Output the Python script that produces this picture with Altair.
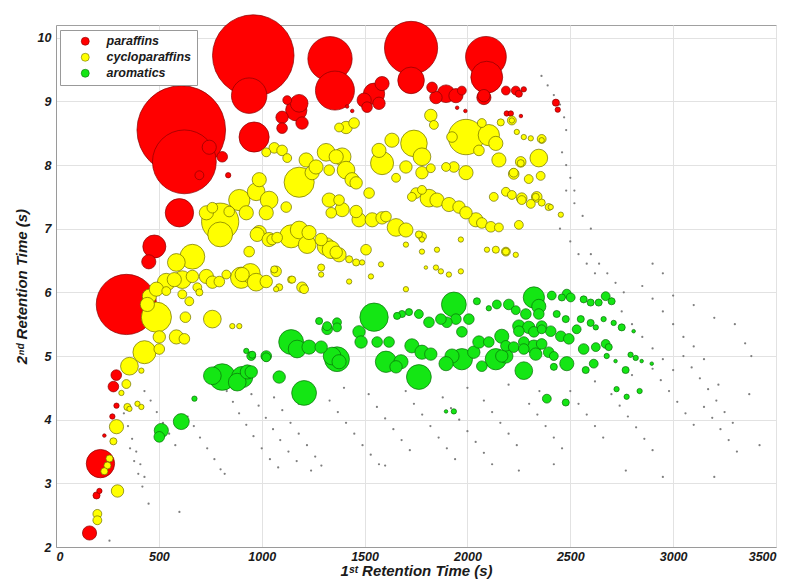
import altair as alt
import pandas as pd

# (1st retention time s, 2nd retention time s, peak volume)
PARAFFINS = [
    (959, 9.72, 2116), (939, 9.09, 400), (963, 8.44, 289),
    (609, 8.55, 2500), (624, 8.05, 1296), (342, 5.81, 1156),
    (216, 3.31, 256), (163, 2.22, 64), (197, 2.81, 16), (211, 2.88, 9),
    (293, 4.70, 36), (279, 4.52, 36), (294, 4.22, 9), (274, 4.05, 9), (235, 3.75, 4),
    (478, 6.72, 169), (451, 6.48, 64), (600, 7.25, 256),
    (1332, 9.67, 625), (1356, 9.17, 484), (1726, 9.84, 900), (1726, 9.33, 225),
    (2090, 9.70, 529), (2094, 9.38, 324), (2080, 9.09, 49),
    (1168, 8.86, 144), (1099, 8.75, 49), (1196, 8.66, 49), (1099, 8.58, 36),
    (1124, 9.02, 25), (1182, 8.97, 100),
    (1546, 9.12, 144), (1498, 9.02, 64), (1585, 9.28, 64), (1512, 8.91, 36), (1570, 8.97, 49),
    (1896, 9.12, 100), (1847, 9.06, 49), (1944, 9.09, 64), (1828, 9.22, 36), (1973, 9.17, 25),
    (2080, 9.06, 64), (2187, 9.17, 25), (2235, 9.17, 25), (2250, 9.12, 16),
    (2430, 8.98, 16), (2439, 8.87, 9), (2191, 8.81, 9), (2211, 8.81, 9), (2260, 8.77, 4),
    (2274, 9.19, 9), (745, 8.28, 64), (808, 8.13, 36), (697, 7.84, 25), (837, 7.84, 9),
    (1415, 8.92, 4), (1440, 8.85, 4), (1950, 8.90, 4), (1990, 8.85, 4),
]

CYCLOPARAFFINS = [
    (488, 5.61, 289), (454, 5.94, 64), (502, 5.30, 49), (430, 5.06, 169), (357, 4.84, 100),
    (342, 4.56, 25), (318, 4.42, 9), (294, 3.89, 64), (279, 3.66, 16), (260, 3.39, 16),
    (250, 3.28, 16), (235, 3.19, 16), (299, 2.88, 49), (201, 2.52, 25), (201, 2.42, 25),
    (347, 4.20, 16), (357, 4.17, 9), (396, 4.25, 9), (415, 4.20, 9), (415, 4.77, 9),
    (444, 5.81, 64), (502, 5.11, 36), (585, 5.30, 64), (624, 5.27, 36), (629, 5.61, 36),
    (760, 5.58, 100), (575, 6.20, 64), (536, 6.02, 25), (614, 5.97, 25), (648, 5.86, 25),
    (687, 6.08, 25), (697, 6.00, 16), (760, 6.16, 49), (794, 6.17, 36), (828, 6.28, 25),
    (900, 6.23, 144), (973, 6.16, 100), (1022, 6.17, 49), (939, 6.64, 36), (1070, 6.33, 36),
    (1085, 6.08, 16), (1143, 6.20, 16), (1196, 6.08, 36), (1289, 6.39, 16), (857, 5.47, 9),
    (891, 5.47, 9),
    (1182, 7.73, 289), (798, 7.11, 441), (798, 6.91, 196), (663, 6.56, 196), (585, 6.47, 100),
    (536, 6.16, 100), (945, 6.30, 121), (891, 7.45, 144), (973, 7.58, 100), (1036, 7.45, 100),
    (925, 7.25, 64), (1022, 7.25, 64), (1119, 7.34, 36), (988, 7.77, 64), (1061, 8.27, 36),
    (1099, 8.23, 36), (1022, 8.20, 25), (1124, 8.11, 25), (1216, 8.08, 64), (1313, 8.20, 100),
    (1391, 8.13, 100), (1245, 7.88, 64), (1410, 7.92, 100), (1362, 8.13, 64), (1439, 7.77, 64),
    (1410, 8.59, 49), (1449, 8.66, 36), (1376, 8.59, 25), (1182, 6.98, 100), (1230, 6.94, 64),
    (1313, 6.72, 100), (1362, 6.63, 49), (988, 6.94, 64), (1051, 6.83, 36), (842, 7.27, 36),
    (731, 7.25, 64), (760, 7.33, 36), (905, 6.28, 64), (614, 6.20, 100), (488, 6.05, 64),
    (731, 6.25, 64), (663, 6.25, 49),
    (1264, 7.97, 64), (1328, 7.92, 36), (1459, 7.72, 49), (1522, 7.56, 36), (1585, 8.03, 169),
    (1570, 8.23, 64), (1633, 8.39, 64), (1740, 8.34, 225), (1779, 8.13, 100), (1701, 7.97, 49),
    (1779, 7.88, 49), (1653, 7.80, 25), (1822, 8.78, 49), (1993, 8.44, 400), (2104, 8.47, 144),
    (2138, 8.34, 64), (1925, 8.44, 36), (2056, 8.23, 36), (1993, 7.88, 64), (1934, 7.97, 36),
    (1896, 7.97, 25), (2153, 8.08, 64), (2347, 8.11, 100), (2225, 7.88, 25), (2259, 8.03, 16),
    (1822, 7.95, 25), (1779, 7.61, 25), (1837, 8.63, 25), (2070, 8.66, 25), (2162, 8.67, 16),
    (2216, 8.70, 9), (2240, 8.52, 9), (2308, 8.42, 9), (2361, 8.39, 9), (2274, 8.44, 9),
    (1328, 7.45, 64), (1391, 7.30, 64), (1459, 7.27, 49), (1473, 7.14, 64), (1537, 7.14, 64),
    (1585, 7.17, 49), (1653, 7.02, 100), (1701, 6.98, 64), (1779, 6.88, 25), (1338, 7.25, 36),
    (1376, 7.45, 36), (1750, 7.56, 36), (1813, 7.48, 100), (1852, 7.45, 64), (1910, 7.38, 64),
    (1959, 7.34, 49), (1993, 7.25, 49), (2041, 7.14, 64), (2070, 7.09, 36), (2114, 7.03, 36),
    (2153, 7.02, 25), (1730, 7.50, 25), (2128, 7.50, 25), (2187, 7.58, 25), (2216, 7.53, 25),
    (2264, 7.45, 25), (2332, 7.50, 16), (2361, 7.41, 16), (2405, 7.34, 9), (1604, 7.19, 36),
    (1764, 6.91, 16), (1779, 6.83, 9),
    (978, 6.91, 64), (1036, 6.83, 64), (1075, 6.86, 36), (1143, 6.88, 169), (1221, 6.75, 100),
    (1289, 6.83, 49), (1337, 6.67, 100), (1376, 6.59, 64), (1425, 6.52, 16), (1459, 6.47, 16),
    (1488, 6.47, 9), (1507, 6.67, 36), (1580, 6.44, 9), (1701, 6.75, 9), (1779, 6.64, 9),
    (1852, 6.67, 9), (1968, 6.83, 9), (2138, 6.67, 16), (2187, 6.64, 16), (2235, 6.59, 9),
    (2095, 6.67, 9),
    (1061, 6.36, 16), (1070, 6.05, 9), (1148, 6.20, 16), (1206, 6.05, 25), (1289, 6.28, 9),
    (1425, 6.17, 9), (1531, 6.25, 9), (1701, 6.05, 9), (1798, 6.39, 4), (1847, 6.39, 9),
    (1871, 6.33, 9), (1910, 6.28, 9), (1968, 6.33, 9),
    (2259, 8.05, 36), (2225, 7.86, 36), (2298, 7.78, 25), (2356, 7.83, 25), (2337, 7.50, 36),
    (2264, 7.48, 36), (2308, 7.39, 25), (2395, 7.34, 16), (2454, 7.22, 9), (2250, 7.06, 25),
    (2187, 6.64, 25), (2361, 8.41, 25), (2216, 8.70, 25),
]

AROMATICS = [
    (1546, 5.61, 256), (1934, 5.81, 196), (2323, 5.92, 144), (2347, 5.78, 64), (1143, 5.22, 196),
    (1172, 5.11, 100), (1366, 4.95, 196), (1473, 5.38, 49), (1604, 4.91, 144), (1677, 4.91, 64),
    (1764, 4.67, 196), (1730, 5.16, 64), (1779, 5.06, 64), (1822, 5.03, 49), (1973, 4.95, 144),
    (1925, 5.00, 64), (2031, 5.06, 49), (2138, 4.95, 144), (2187, 5.00, 64), (2274, 4.77, 100),
    (2167, 5.31, 64), (2056, 5.22, 49), (2104, 5.22, 36), (1973, 5.38, 36), (2007, 5.58, 36),
    (1944, 5.58, 36), (1900, 5.53, 36), (1871, 5.58, 36), (1813, 5.53, 36), (1764, 5.66, 25),
    (1716, 5.69, 16), (1682, 5.66, 16), (1658, 5.63, 16), (2046, 5.86, 16), (2104, 5.75, 9),
    (2143, 5.81, 25), (2201, 5.81, 36), (2235, 5.72, 25), (2284, 5.66, 36), (2347, 5.66, 36),
    (2250, 5.47, 49), (2298, 5.45, 49), (2361, 5.47, 36), (1318, 5.47, 25), (1366, 5.53, 25),
    (1279, 5.55, 16), (1230, 5.14, 64), (1289, 5.14, 49), (1483, 5.22, 49), (1561, 5.22, 36),
    (1619, 5.22, 36), (949, 5.00, 25), (1022, 4.98, 25), (1085, 4.67, 49), (1206, 4.42, 196),
    (949, 4.75, 49), (1896, 4.88, 64), (2070, 4.84, 36), (2274, 5.22, 36), (2323, 5.14, 64),
    (2361, 5.19, 36), (1653, 4.83, 49),
    (808, 4.67, 225), (760, 4.69, 100), (905, 4.67, 144), (930, 4.75, 64), (881, 4.59, 100),
    (1022, 5.00, 36), (954, 5.02, 16), (925, 5.08, 9), (1342, 5.00, 100), (1376, 4.91, 64),
    (1318, 5.42, 36), (1366, 5.45, 25), (609, 3.97, 81), (512, 3.83, 64), (502, 3.73, 36),
    (673, 4.33, 9),
    (2410, 5.95, 25), (2483, 5.98, 25), (2502, 5.92, 25), (2459, 5.92, 16), (2565, 5.89, 16),
    (2599, 5.84, 16), (2638, 5.84, 16), (2672, 5.94, 25), (2701, 5.86, 16), (2434, 5.66, 16),
    (2478, 5.58, 16), (2551, 5.58, 16), (2599, 5.52, 16), (2624, 5.45, 9), (2662, 5.58, 9),
    (2711, 5.52, 9), (2750, 5.45, 16), (2808, 5.39, 4), (2250, 5.39, 36), (2323, 5.38, 36),
    (2361, 5.42, 25), (2405, 5.39, 36), (2454, 5.31, 36), (2493, 5.27, 36), (2531, 5.42, 25),
    (2187, 5.16, 36), (2225, 5.14, 36), (2274, 5.11, 36), (2332, 5.03, 49), (2395, 5.06, 36),
    (2565, 5.11, 36), (2624, 5.14, 25), (2672, 5.19, 25), (2687, 5.14, 16), (2483, 4.88, 64),
    (2575, 4.78, 16), (2614, 4.88, 25), (2677, 5.00, 9), (2720, 4.92, 4), (2769, 4.78, 16),
    (2793, 5.02, 9), (2818, 4.97, 9), (2847, 4.92, 4), (2896, 4.88, 4), (2420, 4.83, 16),
    (2386, 4.33, 25), (2478, 4.27, 16), (2725, 4.48, 9), (2774, 4.36, 9), (2837, 4.45, 9),
    (2167, 5.00, 49), (2420, 5.00, 25), (1934, 4.13, 9), (1896, 4.13, 4),
]

# minor (unclassified) peaks
MINOR = [
    (430, 4.45), (460, 4.30), (490, 4.12), (520, 3.95), (550, 3.78), (580, 3.60),
    (330, 4.10), (350, 3.90), (370, 3.70), (390, 3.50), (410, 3.30), (430, 3.10),
    (360, 3.55), (380, 3.35), (400, 3.15), (420, 2.95),
    (640, 4.05), (670, 3.90), (700, 3.72), (735, 3.55), (770, 3.38), (800, 3.22),
    (830, 4.45), (860, 4.28), (890, 4.10), (925, 3.92), (960, 3.74), (1000, 3.55), (1040, 3.38), (1080, 3.25),
    (950, 4.40), (985, 4.22), (1020, 4.03), (1055, 3.85), (1090, 3.68), (1130, 3.50), (1170, 3.35),
    (1060, 4.35), (1100, 4.15), (1140, 3.95), (1180, 3.78), (1220, 3.60), (1260, 3.42), (1290, 3.28),
    (1330, 4.30), (1370, 4.12), (1410, 3.95), (1450, 3.78), (1490, 3.60), (1530, 3.45), (1570, 3.30),
    (1520, 4.40), (1560, 4.20), (1600, 4.02), (1640, 3.85), (1680, 3.68), (1720, 3.52),
    (1700, 4.45), (1740, 4.25), (1780, 4.08), (1820, 3.90), (1860, 3.72), (1900, 3.55), (1940, 3.38),
    (1880, 4.35), (1920, 4.18), (1960, 4.00), (2000, 3.82), (2040, 3.65), (2080, 3.48), (2120, 3.30),
    (2080, 4.30), (2120, 4.12), (2160, 3.95), (2200, 3.78), (2240, 3.60),
    (2300, 4.25), (2340, 4.08), (2380, 3.90), (2420, 3.72), (2460, 3.55),
    (2500, 4.45), (2540, 4.25), (2580, 4.08), (2620, 3.90), (2660, 3.72),
    (2700, 4.40), (2740, 4.22), (2780, 4.05), (2820, 3.88), (2860, 3.70), (2900, 3.52),
    (2900, 4.80), (2940, 4.62), (2980, 4.45), (3020, 4.28), (3060, 4.10), (3100, 3.92),
    (3050, 5.00), (3090, 4.82), (3130, 4.65), (3170, 4.48), (3210, 4.30), (3250, 4.12), (3290, 3.95),
    (3150, 4.20), (3190, 4.03), (3230, 3.85), (3270, 3.68), (3310, 3.50),
    (2700, 5.90), (2750, 5.70), (2800, 5.50), (2850, 5.30), (2900, 5.12), (2950, 4.95), (3000, 4.78),
    (2850, 6.10), (2900, 5.90), (2950, 5.70), (3000, 5.50), (3050, 5.30), (3100, 5.15), (3150, 4.95),
    (2600, 6.60), (2640, 6.45), (2680, 6.30), (2720, 6.15), (2760, 6.00),
    (2450, 7.00), (2500, 6.80), (2540, 6.60), (2580, 6.45), (2620, 6.30),
    (2480, 7.60), (2520, 7.40), (2560, 7.20), (2600, 7.00),
    (2460, 8.20), (2480, 8.00), (2500, 7.80), (2520, 7.60),
    (2360, 9.40), (2390, 9.25), (2420, 9.10), (2450, 8.95), (2470, 8.75), (2480, 8.55),
    (3420, 3.60), (3370, 4.40), (3220, 4.55), (2950, 3.10), (3200, 3.10), (2770, 3.20), (3380, 5.00),
    (600, 2.55), (450, 2.68), (260, 2.10), (820, 3.15), (1240, 3.20), (1600, 3.28), (2250, 3.20), (2420, 3.30),
    (1400, 4.50), (1180, 4.25), (2000, 4.50), (2200, 4.55), (2350, 4.45), (2620, 4.60), (2800, 4.70),
    (3000, 5.95), (3100, 5.80), (3200, 5.60), (3300, 5.50), (3350, 5.20), (2900, 6.45), (2950, 6.30),
]

GROUPS = ["paraffins", "cycloparaffins", "aromatics"]
FILLS = ["#ff0000", "#ffff00", "#14e614"]
EDGES = ["#8a0000", "#6e6e00", "#0a6e0a"]

rows = []
for name, pts in zip(GROUPS, [PARAFFINS, CYCLOPARAFFINS, AROMATICS]):
    for x, y, v in sorted(pts, key=lambda p: -p[2]):
        rows.append({"rt1": x, "rt2": y, "vol": v, "group": name})
bub = pd.DataFrame(rows)
bub["idx"] = range(len(bub))
minor = pd.DataFrame(MINOR, columns=["rt1", "rt2"])

FONT = "Liberation Sans"
xs = alt.Scale(domain=[0, 3500], nice=False)
ys = alt.Scale(domain=[2, 10.2], nice=False)
xax = alt.Axis(values=list(range(0, 3501, 500)), format="d", title="1ˢᵗ Retention Time (s)",
               labelFontSize=12.5, titleFontSize=15, titlePadding=1, labelPadding=3,
               ticks=False)
yax = alt.Axis(values=list(range(2, 11)), format="d", title="2ⁿᵈ Retention Time (s)",
               labelFontSize=12.5, titleFontSize=15, titlePadding=8, labelPadding=5,
               ticks=False)

gray = alt.Chart(minor).mark_circle(size=5, color="#707070", opacity=0.9).encode(
    x=alt.X("rt1:Q", scale=xs, axis=xax),
    y=alt.Y("rt2:Q", scale=ys, axis=yax),
)

bubbles = alt.Chart(bub).mark_circle(opacity=1, strokeWidth=0.7).encode(
    x=alt.X("rt1:Q", scale=xs, axis=xax),
    y=alt.Y("rt2:Q", scale=ys, axis=yax),
    color=alt.Color("group:N", scale=alt.Scale(domain=GROUPS, range=FILLS),
                    legend=alt.Legend(title=None, orient="none", legendX=4, legendY=5)),
    stroke=alt.Stroke("group:N", scale=alt.Scale(domain=GROUPS, range=EDGES), legend=None),
    size=alt.Size("vol:Q", scale=alt.Scale(domain=[0, 2500], range=[0, 7854]), legend=None),
    order=alt.Order("idx:Q"),
)

chart = alt.layer(gray, bubbles).properties(
    width=720, height=522,
    autosize="none",
    padding={"left": 48, "top": 17, "right": 5, "bottom": 35},
).configure_view(stroke="#a0a0a0", strokeWidth=1).configure_axis(
    labelFont=FONT, labelFontWeight="bold", labelFontStyle="italic", labelColor="#1a1a1a",
    titleFont=FONT, titleFontWeight="bold", titleFontStyle="italic", titleColor="#1a1a1a",
    gridColor="#e2e2e2", domainColor="#9a9a9a",
).configure_legend(
    fillColor="white", strokeColor="#999999", padding=5,
    labelFont=FONT, labelFontWeight="bold", labelFontStyle="italic", labelFontSize=12.5,
    labelColor="#1a1a1a", symbolType="circle", symbolSize=64, symbolOffset=14,
    labelOffset=15, rowPadding=3, symbolStrokeColor="#444444", symbolStrokeWidth=0.6,
)

chart.save("out.html", embed_options={"renderer": "svg", "actions": False})
